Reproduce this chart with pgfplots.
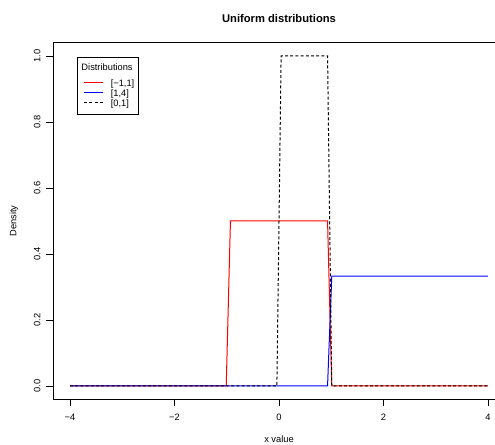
\documentclass[border=0pt]{standalone}
\usepackage{fontspec}
\setmainfont{Liberation Sans}
\usepackage{pgfplots}
\pgfplotsset{compat=1.18}

% densities sampled on seq(-4, 4, length = 100): only the points where the value changes
\begin{document}
\fontsize{9.3bp}{11bp}\selectfont
\begin{tikzpicture}
\fill[white] (0,0) rectangle (495bp,445bp);
\begin{axis}[
    at={(53.3bp,45.8bp)}, anchor=south west,
    scale only axis,
    width=451.4bp, height=356.4bp,
    xmin=-4.32, xmax=4.32,
    ymin=-0.04, ymax=1.04,
    axis line style={line width=0.9bp},
    tick align=outside, tick pos=left,
    major tick length=7bp,
    every tick/.style={black, line width=0.8bp},
    xtick={-4,-2,0,2,4},
    xticklabels={−4,−2,0,2,4},
    ytick={0,0.2,0.4,0.6,0.8,1.0},
    yticklabels={0.0,0.2,0.4,0.6,0.8,1.0},
    xticklabel style={anchor=north, inner sep=0pt},
    xticklabel shift=8bp,
    yticklabel style={rotate=90, anchor=south, inner sep=0pt},
    yticklabel shift=5.6bp,
    tick label style={font=\fontsize{9.3bp}{11bp}\selectfont},
    xlabel={x value},
    x label style={at={(axis description cs:0.5,0)}, anchor=base, yshift=-43.1bp, font=\fontsize{9.3bp}{11bp}\selectfont},
    ylabel={Density},
    y label style={at={(axis description cs:0,0.5)}, anchor=center, yshift=39.3bp, font=\fontsize{9.3bp}{11bp}\selectfont},
    title={Uniform distributions},
    title style={at={(axis description cs:0.5,1)}, anchor=base, yshift=14.5bp, font=\fontsize{11.2bp}{13bp}\selectfont\bfseries},
    legend cell align=left,
    legend image code/.code={\draw[#1] (3.8bp,0.85bp) -- (22.5bp,0.85bp);},
    legend style={
        at={(axis description cs:0.0518,0.96101)}, anchor=north west,
        draw=black, line width=0.6bp,
        inner xsep=3.5bp, inner ysep=6.8bp,
        font=\fontsize{9.3bp}{11bp}\selectfont,
        row sep=1.5bp,
        nodes={inner sep=0pt, text height=7bp},
        /tikz/every odd column/.append style={column sep=7.3bp},
    },
]
\addlegendimage{empty legend}
\addlegendentry[text height=7bp, text depth=7.1bp]{\hspace*{-29.3bp}Distributions}

\addplot[red, line width=1bp] coordinates {
    (-4,0) (-1.0101,0) (-0.9293,0.5) (0.9293,0.5) (1.0101,0) (4,0)
};
\addlegendentry{[−1,1]}

\addplot[blue, line width=1bp] coordinates {
    (-4,0) (0.9293,0) (1.0101,0.33333) (4,0.33333)
};
\addlegendentry{[1,4]}

\addplot[black, line width=1bp, dash pattern=on 3bp off 2.2bp] coordinates {
    (-4,0) (-0.0404,0) (0.0404,1) (0.9293,1) (1.0101,0) (4,0)
};
\addlegendentry{[0,1]}
\end{axis}
\pgfresetboundingbox
\path[use as bounding box] (0,0) rectangle (495bp,445bp);
\end{tikzpicture}
\end{document}
